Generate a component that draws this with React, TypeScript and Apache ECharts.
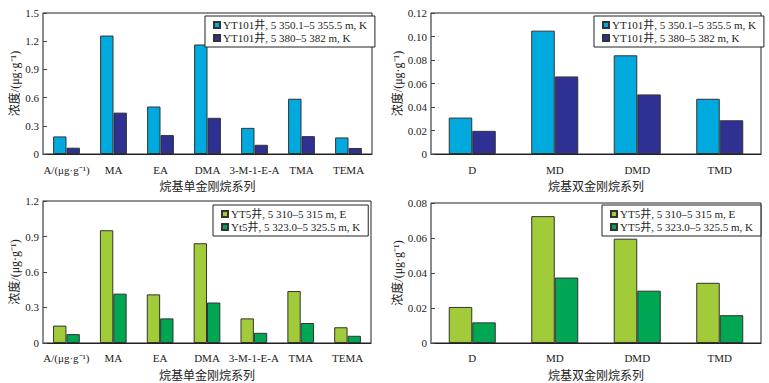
import React, { useEffect, useRef } from "react";
import * as echarts from "echarts";

const monoCategories = ["A/(μg·g⁻¹)", "MA", "EA", "DMA", "3-M-1-E-A", "TMA", "TEMA"];
const diCategories = ["D", "MD", "DMD", "TMD"];

const topNames = ["YT101井, 5 350.1–5 355.5 m, K", "YT101井, 5 380–5 382 m, K"];
const blNames = ["YT5井, 5 310–5 315 m, E", "Yt5井, 5 323.0–5 325.5 m, K"];
const brNames = ["YT5井, 5 310–5 315 m, E", "YT5井, 5 323.0–5 325.5 m, K"];

const tlSeries1 = [0.187, 1.26, 0.505, 1.165, 0.278, 0.588, 0.176];
const tlSeries2 = [0.067, 0.44, 0.201, 0.385, 0.098, 0.19, 0.064];
const trSeries1 = [0.031, 0.105, 0.084, 0.047];
const trSeries2 = [0.0197, 0.066, 0.0507, 0.0287];
const blSeries1 = [0.147, 0.953, 0.411, 0.843, 0.208, 0.439, 0.133];
const blSeries2 = [0.075, 0.417, 0.208, 0.342, 0.086, 0.169, 0.061];
const brSeries1 = [0.0206, 0.0725, 0.0596, 0.0344];
const brSeries2 = [0.0118, 0.0374, 0.0299, 0.0159];

const yMax = [1.5, 0.12, 1.2, 0.08];
const yInterval = [0.3, 0.02, 0.3, 0.02];
const yDecimals = [1, 2, 1, 2];

const yName = "浓度/(μg·g⁻¹)";
const monoXName = "烷基单金刚烷系列";
const diXName = "烷基双金刚烷系列";

const COLORS = {
  lightBlue: "#00AADF",
  navy: "#2E3192",
  lightGreen: "#A2CB3A",
  green: "#00A651",
};

const FONT = "'Liberation Serif', 'Times New Roman', 'Noto Sans CJK SC', serif";

export default function App() {
  const ref = useRef<HTMLDivElement>(null);
  useEffect(() => {
    if (!ref.current) return;
    const chart = echarts.init(ref.current, undefined, { renderer: "svg" });

    const grids = [
      { left: 43, top: 13, width: 329, height: 141 },
      { left: 431, top: 13, width: 330, height: 141 },
      { left: 43, top: 201, width: 328, height: 142 },
      { left: 431, top: 203, width: 330, height: 141 },
    ].map((g) => ({ ...g, show: true, borderColor: "#222", borderWidth: 1, backgroundColor: "transparent" }));

    const cats = [monoCategories, diCategories, monoCategories, diCategories];
    const xNames = [monoXName, diXName, monoXName, diXName];

    const xAxis = cats.map((c, i) => ({
      type: "category",
      gridIndex: i,
      data: c,
      name: xNames[i],
      nameLocation: "middle",
      nameGap: 27,
      nameTextStyle: { fontFamily: FONT, fontSize: 12, color: "#222" },
      axisLine: { lineStyle: { color: "#222", width: 1 } },
      axisTick: { inside: true, length: 4, lineStyle: { color: "#444" } },
      axisLabel: { interval: 0, fontFamily: FONT, fontSize: 11, color: "#222", margin: 10 },
    }));

    const yAxis = yMax.map((m, i) => ({
      type: "value",
      gridIndex: i,
      min: 0,
      max: m,
      interval: yInterval[i],
      name: yName,
      nameLocation: "middle",
      nameGap: 19,
      nameTextStyle: { fontFamily: FONT, fontSize: 12, color: "#222" },
      splitLine: { show: false },
      axisLine: { show: true, lineStyle: { color: "#888", width: 1.5 } },
      axisTick: { show: true, inside: true, length: 4, lineStyle: { color: "#444" } },
      axisLabel: {
        fontFamily: FONT,
        fontSize: 11,
        color: "#222",
        margin: 4,
        formatter: (v: number) => (v === 0 ? "0" : v.toFixed(yDecimals[i])),
      },
    }));

    const mk = (name: string, data: number[], color: string, idx: number) => ({
      type: "bar",
      name,
      data,
      xAxisIndex: idx,
      yAxisIndex: idx,
      barWidth: "28.5%",
      barGap: "0%",
      itemStyle: { color, borderColor: "#333", borderWidth: 1 },
    });

    const series = [
      mk(topNames[0], tlSeries1, COLORS.lightBlue, 0),
      mk(topNames[1], tlSeries2, COLORS.navy, 0),
      mk(topNames[0], trSeries1, COLORS.lightBlue, 1),
      mk(topNames[1], trSeries2, COLORS.navy, 1),
      mk(blNames[0], blSeries1, COLORS.lightGreen, 2),
      mk(blNames[1], blSeries2, COLORS.green, 2),
      mk(brNames[0], brSeries1, COLORS.lightGreen, 3),
      mk(brNames[1], brSeries2, COLORS.green, 3),
    ];

    const legendBase = {
      orient: "vertical",
      icon: "rect",
      itemWidth: 6,
      itemHeight: 6,
      itemGap: 1,
      padding: [3, 8],
      borderColor: "#222",
      borderWidth: 1,
      backgroundColor: "#fff",
      selectedMode: false,
      textStyle: { fontFamily: FONT, fontSize: 11, color: "#222", lineHeight: 12, padding: [0, 0, 0, -2] },
    };

    const legend = [
      { ...legendBase, data: topNames, left: 205, top: 16 },
      { ...legendBase, data: topNames, left: 594, top: 16 },
      { ...legendBase, data: blNames, left: 213, top: 205 },
      { ...legendBase, data: brNames, left: 602, top: 205 },
    ];

    chart.setOption({
      animation: false,
      backgroundColor: "#fff",
      grid: grids,
      xAxis,
      yAxis,
      legend,
      series,
    } as any);

    return () => chart.dispose();
  }, []);

  return (
    <div
      ref={ref}
      style={{ position: "absolute", left: 0, top: 0, width: 769, height: 383, background: "#fff" }}
    />
  );
}
